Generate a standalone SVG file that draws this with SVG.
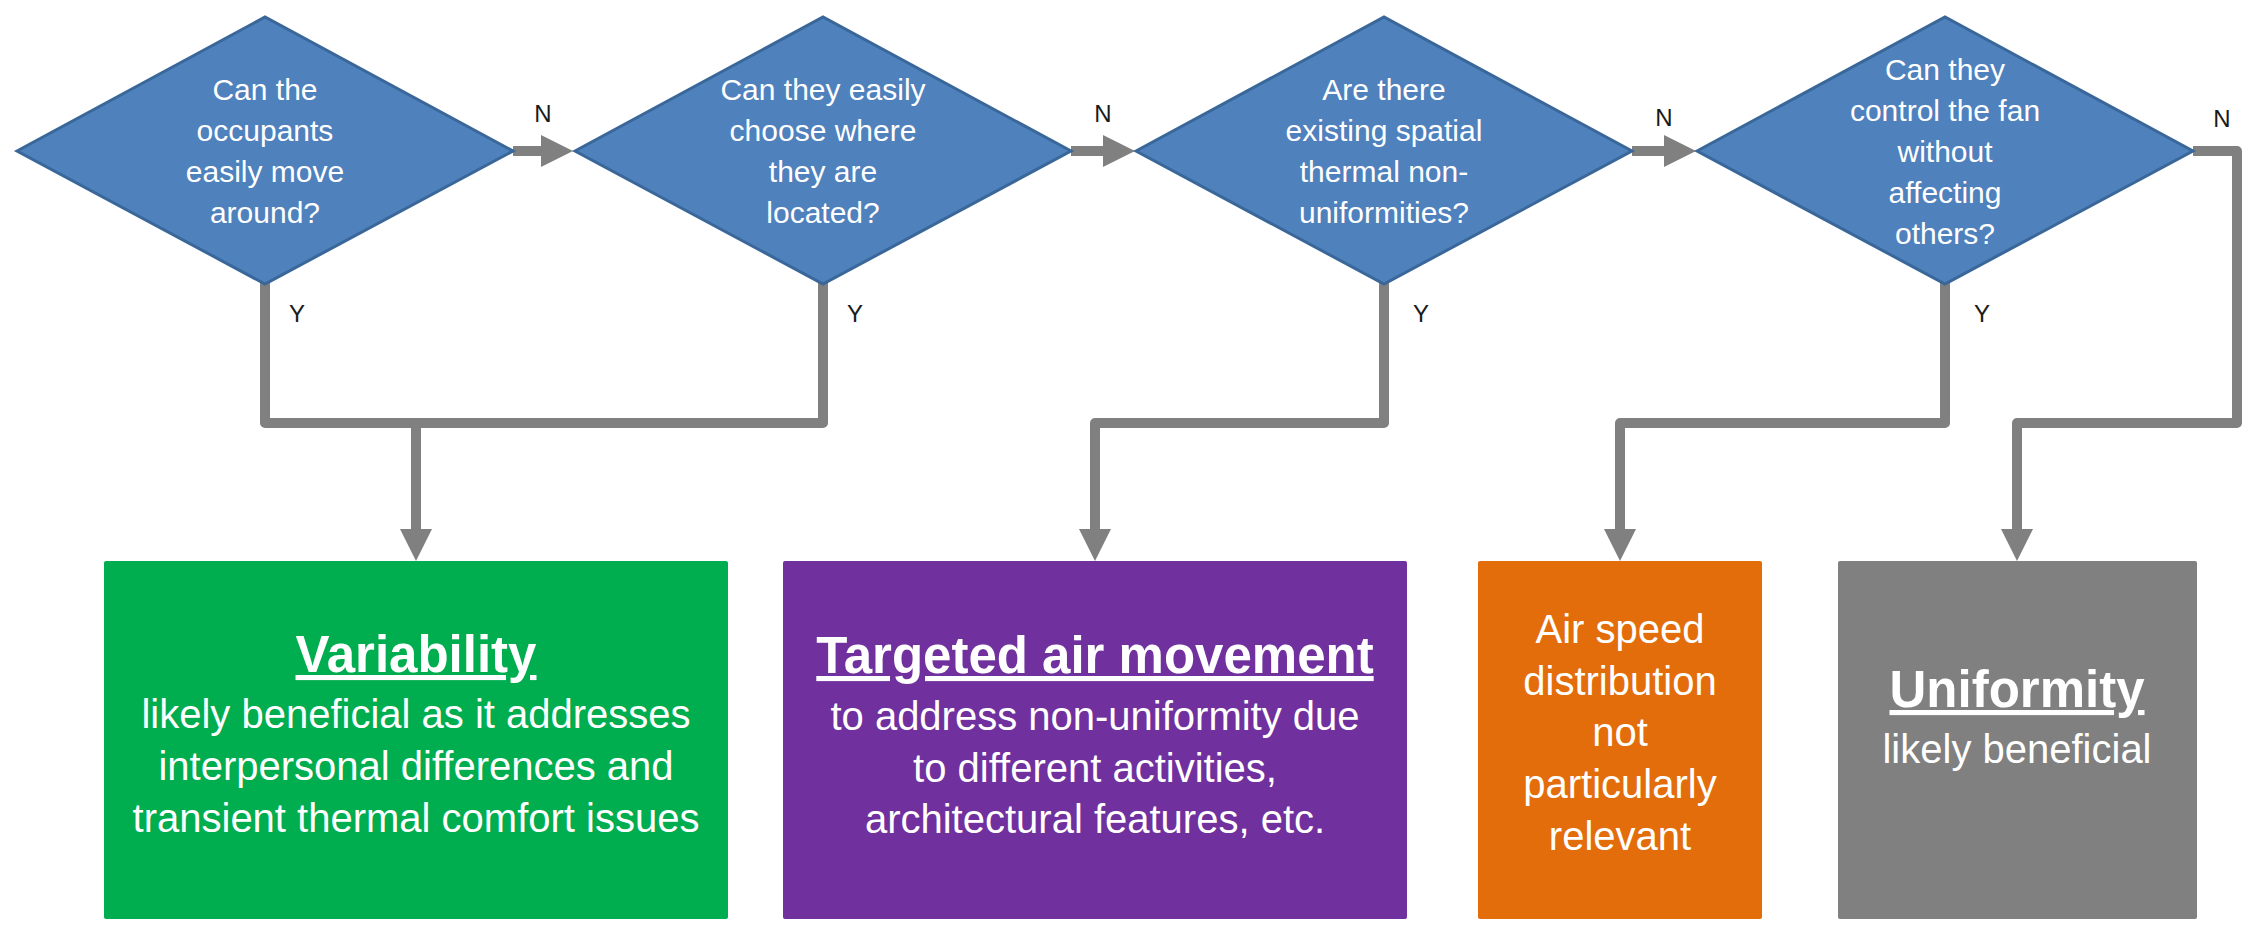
<svg xmlns="http://www.w3.org/2000/svg" width="2250" height="935" viewBox="0 0 2250 935">
  <style>
    .dia { fill: #4F81BD; stroke: #3A6799; stroke-width: 3; stroke-linejoin: miter; }
    .dtxt { font-family: "Liberation Sans", Arial, sans-serif; font-size: 30px; fill: #FFFFFF; text-anchor: middle; }
    .lbl { font-family: "Liberation Sans", Arial, sans-serif; font-size: 24px; fill: #1A1A1A; }
    .conn { fill: none; stroke: #808080; stroke-width: 10; stroke-linejoin: round; stroke-linecap: butt; }
    .title { font-family: "Liberation Sans", Arial, sans-serif; font-size: 51px; font-weight: bold; fill: #FFFFFF; text-anchor: middle; text-decoration: underline; }
    .body { font-family: "Liberation Sans", Arial, sans-serif; font-size: 40px; fill: #FFFFFF; text-anchor: middle; }
  </style>
  <defs>
    <marker id="arrow" markerUnits="userSpaceOnUse" markerWidth="34" markerHeight="34" viewBox="0 0 34 34" refX="2" refY="17" orient="auto">
      <path d="M0,1 L32,17 L0,33 z" fill="#808080"/>
    </marker>
  </defs>
  <rect width="2250" height="935" fill="#FFFFFF"/>

  <g id="connectors">
    <path class="conn" d="M513,151 H543" marker-end="url(#arrow)"/>
    <path class="conn" d="M1071,151 H1105" marker-end="url(#arrow)"/>
    <path class="conn" d="M1632,151 H1666" marker-end="url(#arrow)"/>
    <path class="conn" d="M265,283 V423 H823 V283"/>
    <path class="conn" d="M416,423 V531" marker-end="url(#arrow)"/>
    <path class="conn" d="M1384,283 V423 H1095 V531" marker-end="url(#arrow)"/>
    <path class="conn" d="M1945,283 V423 H1620 V531" marker-end="url(#arrow)"/>
    <path class="conn" d="M2193,151 H2237 V423 H2017 V531" marker-end="url(#arrow)"/>
    <text class="lbl" x="543" y="122" text-anchor="middle">N</text>
    <text class="lbl" x="1103" y="122" text-anchor="middle">N</text>
    <text class="lbl" x="1664" y="126" text-anchor="middle">N</text>
    <text class="lbl" x="2222" y="127" text-anchor="middle">N</text>
    <text class="lbl" x="297" y="322" text-anchor="middle">Y</text>
    <text class="lbl" x="855" y="322" text-anchor="middle">Y</text>
    <text class="lbl" x="1421" y="322" text-anchor="middle">Y</text>
    <text class="lbl" x="1982" y="322" text-anchor="middle">Y</text>
  </g>

  <g id="q1">
    <polygon class="dia" points="17,151 265,17 513,151 265,284"/>
    <text class="dtxt" x="265" y="100">Can the</text>
    <text class="dtxt" x="265" y="141">occupants</text>
    <text class="dtxt" x="265" y="182">easily move</text>
    <text class="dtxt" x="265" y="223">around?</text>
  </g>
  <g id="q2">
    <polygon class="dia" points="575,151 823,17 1071,151 823,284"/>
    <text class="dtxt" x="823" y="100">Can they easily</text>
    <text class="dtxt" x="823" y="141">choose where</text>
    <text class="dtxt" x="823" y="182">they are</text>
    <text class="dtxt" x="823" y="223">located?</text>
  </g>
  <g id="q3">
    <polygon class="dia" points="1136,151 1384,17 1632,151 1384,284"/>
    <text class="dtxt" x="1384" y="100">Are there</text>
    <text class="dtxt" x="1384" y="141">existing spatial</text>
    <text class="dtxt" x="1384" y="182">thermal non-</text>
    <text class="dtxt" x="1384" y="223">uniformities?</text>
  </g>
  <g id="q4">
    <polygon class="dia" points="1697,151 1945,17 2193,151 1945,284"/>
    <text class="dtxt" x="1945" y="80">Can they</text>
    <text class="dtxt" x="1945" y="121">control the fan</text>
    <text class="dtxt" x="1945" y="162">without</text>
    <text class="dtxt" x="1945" y="203">affecting</text>
    <text class="dtxt" x="1945" y="244">others?</text>
  </g>

  <g id="variability">
    <rect x="104" y="561" width="624" height="358" rx="2" fill="#00AD4F"/>
    <text class="title" x="416" y="672">Variability</text>
    <text class="body" x="416" y="728">likely beneficial as it addresses</text>
    <text class="body" x="416" y="780">interpersonal differences and</text>
    <text class="body" x="416" y="832">transient thermal comfort issues</text>
  </g>
  <g id="targeted">
    <rect x="783" y="561" width="624" height="358" rx="2" fill="#70309E"/>
    <text class="title" x="1095" y="673">Targeted air movement</text>
    <text class="body" x="1095" y="730">to address non-uniformity due</text>
    <text class="body" x="1095" y="782">to different activities,</text>
    <text class="body" x="1095" y="833">architectural features, etc.</text>
  </g>
  <g id="not-relevant">
    <rect x="1478" y="561" width="284" height="358" rx="2" fill="#E36C0B"/>
    <text class="body" x="1620" y="643">Air speed</text>
    <text class="body" x="1620" y="695">distribution</text>
    <text class="body" x="1620" y="746">not</text>
    <text class="body" x="1620" y="798">particularly</text>
    <text class="body" x="1620" y="850">relevant</text>
  </g>
  <g id="uniformity">
    <rect x="1838" y="561" width="359" height="358" rx="2" fill="#808080"/>
    <text class="title" x="2017" y="707">Uniformity</text>
    <text class="body" x="2017" y="763">likely beneficial</text>
  </g>
</svg>
